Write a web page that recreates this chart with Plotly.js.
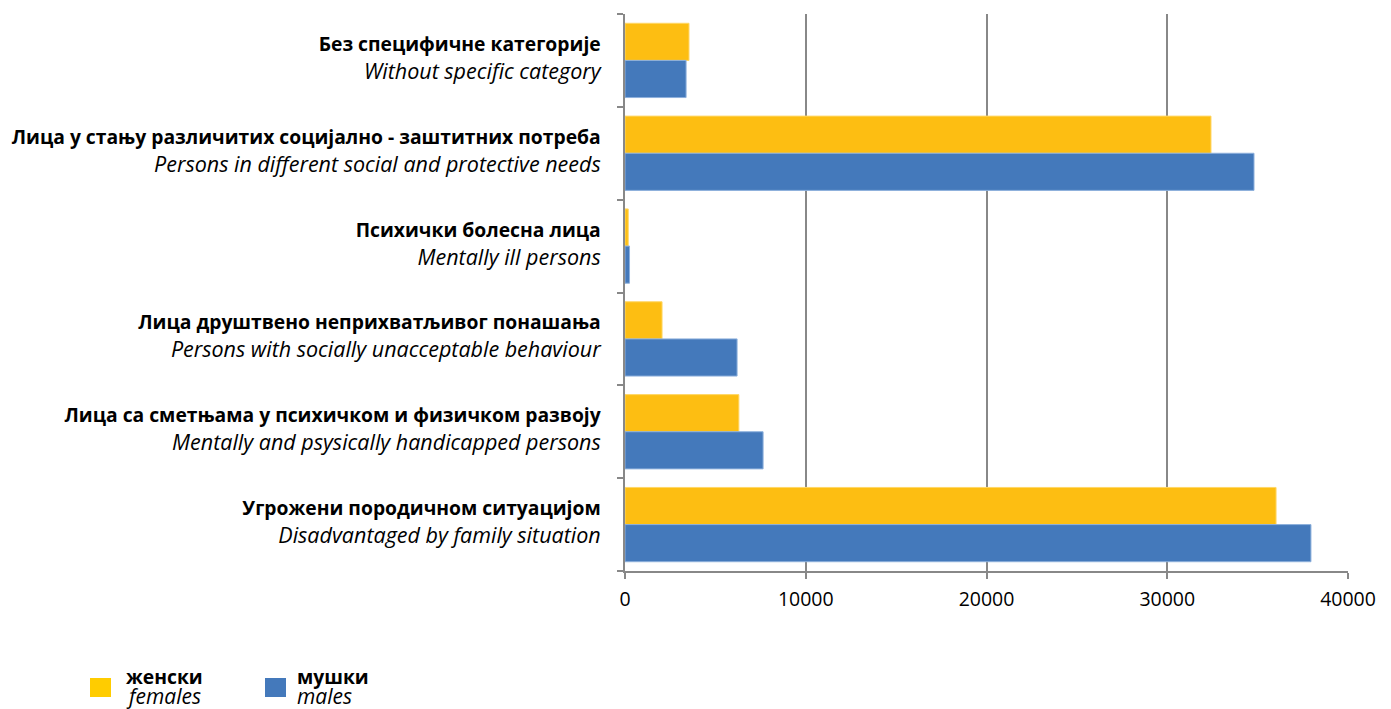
<!DOCTYPE html>
<html>
<head>
<meta charset="utf-8">
<script src="https://cdn.plot.ly/plotly-3.0.1.min.js"></script>
<style>html,body{margin:0;padding:0;background:#fff;}#chart{width:1391px;height:709px;}</style>
</head>
<body>
<div id="chart"></div>
<script>
var categoriesSr = [
  "Без специфичне категорије",
  "Лица у стању различитих социјално - заштитних потреба",
  "Психички болесна лица",
  "Лица друштвено неприхватљивог понашања",
  "Лица са сметњама у психичком и физичком развоју",
  "Угрожени породичном ситуацијом"
];
var categoriesEn = [
  "Without specific category",
  "Persons in different social and protective needs",
  "Mentally ill persons",
  "Persons with socially unacceptable behaviour",
  "Mentally and psysically handicapped persons",
  "Disadvantaged by family situation"
];
var females = [3540, 32420, 180, 2050, 6300, 36020];
var males   = [3380, 34800, 250, 6200, 7640, 37950];
var seriesSr = ["женски", "мушки"];
var seriesEn = ["females", "males"];
var xTicks = [0, 10000, 20000, 30000, 40000];

var FONT = "'Open Sans', 'Noto Sans', sans-serif";
var YELLOW = "#FDBE12";
var BLUE = "#4479BB";

function twoLine(sr, en){
  return "<span style=\"font-size:19.3px\"><b>" + sr + "</b></span><br><i>" + en + "</i>";
}

var keys = categoriesSr.map(function(s, i){ return "c" + i; });
var labels = categoriesSr.map(function(s, i){ return twoLine(s, categoriesEn[i]); });

var traces = [
  {type: "bar", orientation: "h", name: seriesSr[0], x: females, y: keys,
   marker: {color: YELLOW, line: {color: "#FFD766", width: 1}}, hoverinfo: "x"},
  {type: "bar", orientation: "h", name: seriesSr[1], x: males, y: keys,
   marker: {color: BLUE, line: {color: "#8DB0DC", width: 1}}, hoverinfo: "x"}
];

function px(x){ return (x - 625) / 723; }
function py(y){ return (571 - y) / 557; }

var shapes = [
  {type: "rect", xref: "paper", yref: "paper", x0: px(90), x1: px(111), y0: py(697), y1: py(678),
   fillcolor: "#FFCC00", line: {width: 0}},
  {type: "rect", xref: "paper", yref: "paper", x0: px(265), x1: px(286), y0: py(697), y1: py(678),
   fillcolor: BLUE, line: {width: 0}}
];
var legendX = [124, 295];
var legendColors = ["#FFCC00", BLUE];
var annotations = [];
[0, 1].forEach(function(i){
  annotations.push({xref: "paper", yref: "paper", x: px(legendX[i]), y: py(676), xanchor: "left", yanchor: "middle",
    align: "left", showarrow: false, text: "<b>" + seriesSr[i] + "</b>",
    font: {family: FONT, size: 19.3, color: "#000"}});
  annotations.push({xref: "paper", yref: "paper", x: px(legendX[i]), y: py(696), xanchor: "left", yanchor: "middle",
    align: "left", showarrow: false, text: "<i>" + seriesEn[i] + "</i>",
    font: {family: FONT, size: 21, color: "#000"}});
});

var layout = {
  width: 1391, height: 709,
  margin: {l: 625, r: 43, t: 14, b: 138},
  paper_bgcolor: "#fff", plot_bgcolor: "#fff",
  font: {family: FONT, size: 21.5, color: "#000"},
  barmode: "group", bargap: 0.2, bargroupgap: 0,
  showlegend: false,
  xaxis: {
    range: [0, 40000], tickvals: xTicks, ticktext: xTicks.map(String),
    showgrid: true, gridcolor: "#888", gridwidth: 2,
    zeroline: false, showline: true, linecolor: "#888", linewidth: 2,
    ticks: "outside", ticklen: 6, tickcolor: "#888", tickwidth: 2,
    tickfont: {family: FONT, size: 19.5, color: "#000"}, ticklabelstandoff: 4,
    fixedrange: true
  },
  yaxis: {
    type: "category", categoryorder: "array", categoryarray: keys,
    autorange: "reversed",
    tickvals: keys, ticktext: labels, tickson: "boundaries",
    showgrid: false, zeroline: false,
    showline: true, linecolor: "#888", linewidth: 2,
    ticks: "outside", ticklen: 6, tickcolor: "#888", tickwidth: 2,
    tickfont: {family: FONT, size: 21.5, color: "#000"}, ticklabelstandoff: 18,
    ticklabelshift: 3,
    fixedrange: true
  },
  shapes: shapes,
  annotations: annotations
};

Plotly.newPlot("chart", traces, layout, {displayModeBar: false, staticPlot: true});
</script>
</body>
</html>
